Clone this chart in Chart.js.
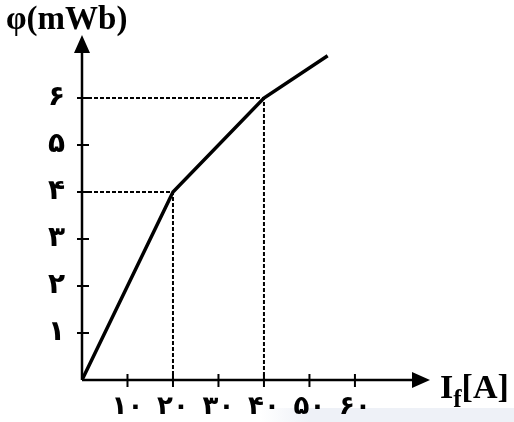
<!DOCTYPE html>
<html>
<head>
<meta charset="utf-8">
<script src="https://cdn.jsdelivr.net/npm/chart.js@4"></script>
<style>
  body { margin: 0; background: #fff; }
  #wrap { position: relative; width: 514px; height: 422px; }
  #band { position: absolute; left: 260px; top: 408px; width: 254px; height: 14px; z-index: 0;
          background: linear-gradient(to right, #fff, #eef1f7 20%, #eef1f7); }
  #chart { position: relative; z-index: 1; }
  .ttl { position: absolute; z-index: 2; font-family: "Liberation Serif", serif; font-weight: bold; color: #000; white-space: nowrap; }
  #ytitle { left: 6px; top: 0px; font-size: 33px; }
  #xtitle { left: 440px; top: 368px; font-size: 34px; }
  #xtitle sub { font-size: 25px; vertical-align: -9px; }
</style>
</head>
<body>
<div id="wrap">
  <div id="band"></div>
  <canvas id="chart" width="514" height="422"></canvas>
  <div class="ttl" id="ytitle">φ(mWb)</div>
  <div class="ttl" id="xtitle">I<sub>f</sub>[A]</div>
</div>
<script>
// curve and guide lines
const curveX = [0, 20, 40, 54]
const curveY = [0, 4, 6, 6.9]
const guides = [[20, 4], [40, 6]]

const xTicks = [10, 20, 30, 40, 50, 60]
const yTicks = [1, 2, 3, 4, 5, 6]
const faDigits = ['۰', '۱', '۲', '۳', '۴', '۵', '۶', '۷', '۸', '۹']

const toFa = n => String(n).split('').map(d => faDigits[+d]).join('')

const curve = curveX.map((x, i) => ({x: x, y: curveY[i]}))
const guideSets = guides.map(g => ({
    data: [{x: 0, y: g[1]}, {x: g[0], y: g[1]}, {x: g[0], y: 0}],
    borderColor: '#000',
    borderWidth: 2,
    borderDash: [4, 2],
    pointRadius: 0,
    showLine: true,
    fill: false
}))

//ejes con flechas y marcas que cruzan
const axesPlugin = {
    id: 'axes',
    afterDatasetsDraw(chart) {
        const ctx = chart.ctx
        const xs = chart.scales.x, ys = chart.scales.y
        const ox = xs.getPixelForValue(0), oy = ys.getPixelForValue(0)
        const top = chart.chartArea.top, right = chart.chartArea.right
        ctx.save()
        ctx.strokeStyle = '#000'
        ctx.fillStyle = '#000'
        ctx.lineWidth = 2.5
        ctx.beginPath()
        ctx.moveTo(ox, oy); ctx.lineTo(ox, top + 14)
        ctx.moveTo(ox, oy); ctx.lineTo(right - 14, oy)
        ctx.stroke()
        ctx.beginPath()
        ctx.moveTo(ox, top); ctx.lineTo(ox - 8, top + 18); ctx.lineTo(ox + 8, top + 18); ctx.closePath()
        ctx.moveTo(right, oy); ctx.lineTo(right - 18, oy - 8); ctx.lineTo(right - 18, oy + 8); ctx.closePath()
        ctx.fill()
        ctx.lineWidth = 2
        ctx.beginPath()
        xTicks.forEach(v => {
            const p = xs.getPixelForValue(v)
            ctx.moveTo(p, oy - 6); ctx.lineTo(p, oy + 7)
        })
        yTicks.forEach(v => {
            const p = ys.getPixelForValue(v)
            ctx.moveTo(ox - 5, p); ctx.lineTo(ox + 7, p)
        })
        ctx.stroke()
        ctx.restore()
    }
}

new Chart('chart', {
    type: 'scatter',
    data: {
        datasets: [
            {
                data: curve,
                borderColor: '#000',
                borderWidth: 3.5,
                pointRadius: 0,
                showLine: true,
                fill: false
            },
            ...guideSets
        ]
    },
    options: {
        responsive: false,
        animation: false,
        layout: { padding: { top: 35, right: 84, left: 0, bottom: 0 } },
        plugins: { legend: { display: false }, tooltip: { enabled: false } },
        scales: {
            x: {
                min: 0,
                max: 76.5,
                afterFit: s => { s.height = 42 },
                afterBuildTicks: s => { s.ticks = xTicks.map(v => ({value: v})) },
                border: { display: false },
                grid: { display: false },
                ticks: {
                    padding: 4,
                    color: '#000',
                    font: { family: 'DejaVu Sans', size: 26, weight: 'bold' },
                    callback: v => toFa(v)
                }
            },
            y: {
                min: 0,
                max: 7.34,
                afterFit: s => { s.width = 82 },
                afterBuildTicks: s => { s.ticks = yTicks.map(v => ({value: v})) },
                border: { display: false },
                grid: { display: false },
                ticks: {
                    padding: 9,
                    color: '#000',
                    font: { family: 'DejaVu Sans', size: 28, weight: 'bold' },
                    callback: v => toFa(v)
                }
            }
        }
    },
    plugins: [axesPlugin]
})
</script>
</body>
</html>
